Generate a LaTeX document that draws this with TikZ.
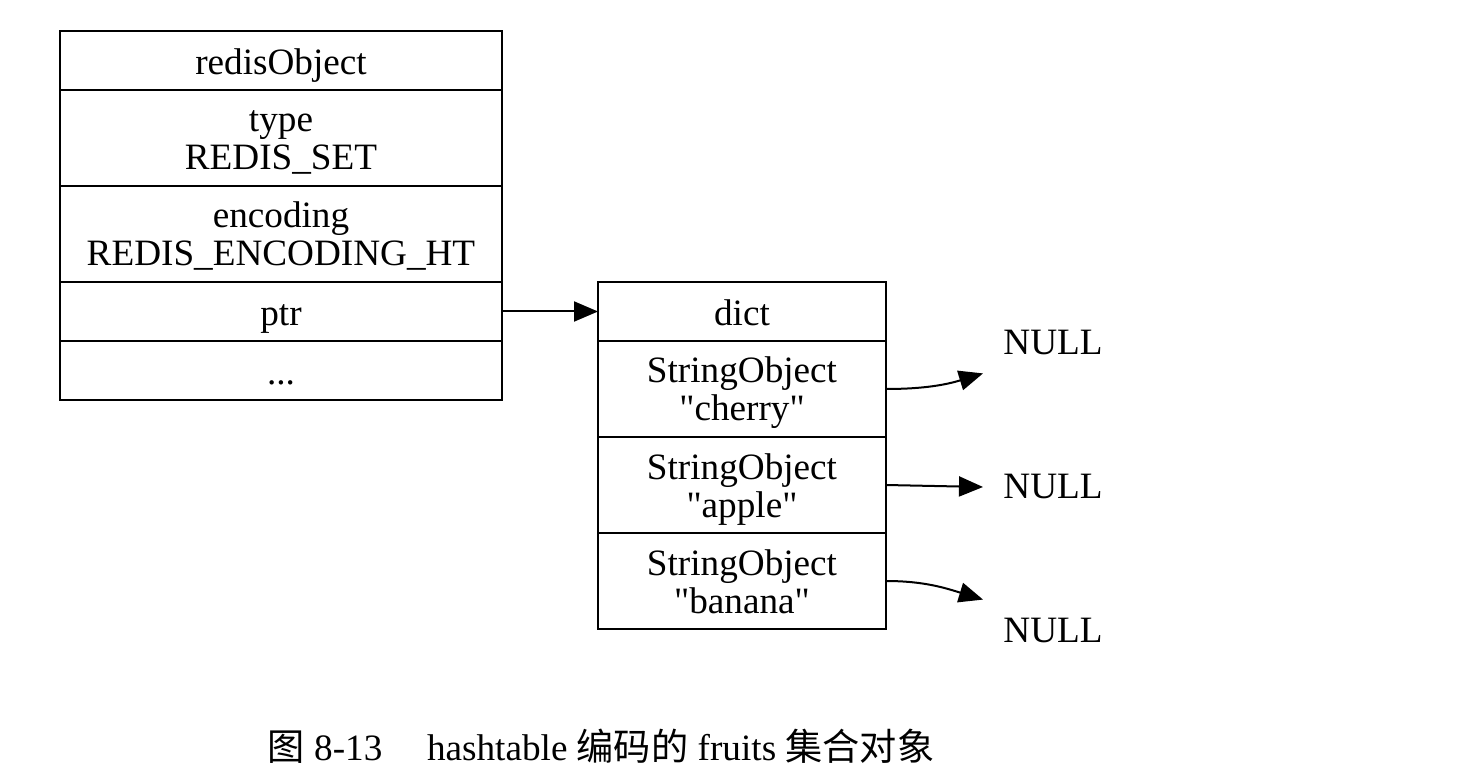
\documentclass[tikz,border=0pt]{standalone}
\usepackage{fontspec}
\setmainfont{Liberation Serif}[Ligatures=TeXOff]
\newfontfamily\cjk{Noto Sans CJK SC}
\usepackage{tikz}
\usetikzlibrary{
arrows.meta,
positioning,
calc
}
\usepackage{xcolor}

\tikzset{
  field/.style={draw, line width=1pt, inner sep=0pt, outer sep=0pt, align=center,
    minimum height=29.5pt, font=\fontsize{18.6}{19}\selectfont},
  objfield/.style={field, minimum width=221pt},
  dictfield/.style={field, minimum width=144pt},
  oneline/.style={text height=15pt, text depth=1pt},
  tall/.style={minimum height=48pt, text height=32pt, text depth=0pt},
  ptrarrow/.style={-{Triangle[length=12pt,width=10pt]}, line width=1pt},
  nullnode/.style={inner xsep=10pt, inner ysep=0pt, minimum height=30pt,
    font=\fontsize{18.6}{19}\selectfont}
}

\begin{document}
\begin{tikzpicture}[x=0.5pt,y=-0.5pt]
      \useasboundingbox (0,0) rectangle (1476,774);
      \node[objfield, oneline, anchor=north west] (robj) at (60,31) {redisObject};
      \node[objfield, tall, below=0pt of robj] (type) {type\\REDIS\_SET};
      \node[objfield, tall, below=0pt of type] (encoding) {encoding\\REDIS\_ENCODING\_HT};
      \node[objfield, oneline, below=0pt of encoding] (ptr) {ptr};
      \node[objfield, oneline, below=0pt of ptr] (more) {...};
      \node[dictfield, oneline, anchor=north west] (dict) at (598,282) {dict};
      \node[dictfield, tall, below=0pt of dict] (cherry) {StringObject\\ "cherry"};
      \node[dictfield, tall, below=0pt of cherry] (apple) {StringObject\\ "apple"};
      \node[dictfield, tall, below=0pt of apple] (banana) {StringObject\\ "banana"};
      \node[nullnode] (null1) at (1053,343) {NULL};
      \node[nullnode] (null2) at (1053,487) {NULL};
      \node[nullnode] (null3) at (1053,630) {NULL};
         \path[ptrarrow] (ptr.east) edge (dict.west);
         \path[ptrarrow] (cherry.east) edge[out=0,in=197] (null1.south west);
         \path[ptrarrow] (apple.east) edge (null2.west);
         \path[ptrarrow] (banana.east) edge[out=0,in=163] (null3.north west);
      \node[font=\fontsize{18.6}{20}\selectfont] (caption) at (601,746)
        {{\cjk 图} 8-13\hspace{1.2em}hashtable {\cjk 编码的} fruits {\cjk 集合对象}};
    \end{tikzpicture}
\end{document}
